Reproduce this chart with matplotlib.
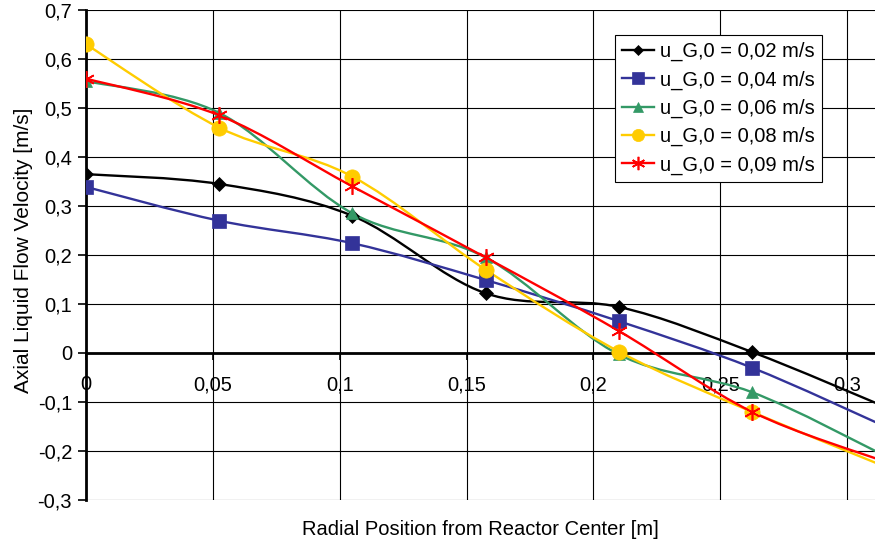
import numpy as np
import matplotlib.pyplot as plt
from matplotlib.path import Path
from matplotlib.patches import PathPatch
from matplotlib.lines import Line2D

plt.rcParams['font.family'] = ['Liberation Sans', 'DejaVu Sans']

# radial positions [m]
r = [0.0, 0.0525, 0.105, 0.1575, 0.21, 0.2625, 0.315]

# axial liquid velocity [m/s] for each superficial gas velocity
u_002 = [0.365, 0.345, 0.28, 0.122, 0.094, 0.002, -0.11]
u_004 = [0.339, 0.27, 0.224, 0.149, 0.065, -0.03, -0.15]
u_006 = [0.555, 0.49, 0.285, 0.195, -0.003, -0.08, -0.21]
u_008 = [0.63, 0.46, 0.36, 0.17, 0.003, -0.12, -0.232]
u_009 = [0.56, 0.485, 0.34, 0.195, 0.045, -0.12, -0.222]

labels = ["u_G,0 = 0,02 m/s", "u_G,0 = 0,04 m/s", "u_G,0 = 0,06 m/s",
          "u_G,0 = 0,08 m/s", "u_G,0 = 0,09 m/s"]
colors = ["black", "#333399", "#339966", "#FFCC00", "#FF0000"]
markers = ["D", "s", "^", "o", (6, 2, 0)]
msizes = [7, 10, 9, 11, 12]

FS = 14.5


def smooth_path(x, y):
    # Excel-like smoothed line: cubic bezier segments (catmull-rom control points)
    pts = np.column_stack([x, y])
    verts = [pts[0]]
    codes = [Path.MOVETO]
    n = len(pts)
    for i in range(n - 1):
        p0 = pts[i - 1] if i > 0 else pts[i]
        p1 = pts[i]
        p2 = pts[i + 1]
        p3 = pts[i + 2] if i + 2 < n else pts[i + 1]
        c1 = p1 + (p2 - p0) / 6.0
        c2 = p2 - (p3 - p1) / 6.0
        verts += [c1, c2, p2]
        codes += [Path.CURVE4] * 3
    return Path(verts, codes)


fig = plt.figure(figsize=(8.75, 5.44), dpi=100)
ax = fig.add_axes([0.0983, 0.0809, 0.9017, 0.9007])

series = [u_002, u_004, u_006, u_008, u_009]
handles = []
for ys, c, m, ms, lab in zip(series, colors, markers, msizes, labels):
    ax.add_patch(PathPatch(smooth_path(r, ys), facecolor="none",
                           edgecolor=c, lw=1.7, zorder=3))
    mew = 1.2 if m == (6, 2, 0) else 0.5
    ax.plot(r, ys, linestyle="none", marker=m, ms=ms, color=c,
            mec=c, mew=mew, zorder=4)
    handles.append(Line2D([], [], color=c, lw=1.7, marker=m,
                          ms=ms * 0.8, mew=mew, label=lab))

ax.set_xlim(0, 0.311)
ax.set_ylim(-0.3, 0.7)
ax.set_xticks(np.arange(0, 0.31, 0.05))
ax.set_yticks(np.arange(-0.3, 0.71, 0.1))
ax.set_xticklabels(["0", "0,05", "0,1", "0,15", "0,2", "0,25", "0,3"])
ax.set_yticklabels(["-0,3", "-0,2", "-0,1", "0", "0,1", "0,2", "0,3",
                    "0,4", "0,5", "0,6", "0,7"])

ax.grid(True, color="black", lw=0.8)
ax.set_axisbelow(True)
ax.spines["bottom"].set_position(("data", 0))
ax.spines["bottom"].set_linewidth(2)
ax.spines["left"].set_linewidth(2)
ax.spines["top"].set_visible(False)
ax.spines["right"].set_visible(False)

ax.tick_params(axis="x", direction="out", length=5, width=1.2, pad=11,
               labelsize=FS)
ax.tick_params(axis="y", direction="out", length=6, width=1.2, pad=4,
               labelsize=FS)

ax.set_xlabel("Radial Position from Reactor Center [m]", fontsize=FS)
ax.xaxis.set_label_coords(0.5, -0.04)
ax.set_ylabel("Axial Liquid Flow Velocity [m/s]", fontsize=15)
ax.yaxis.set_label_coords(-0.067, 0.51)

leg = ax.legend(handles=handles, loc="upper right",
                bbox_to_anchor=(0.933, 0.949), fontsize=FS, frameon=True,
                fancybox=False, edgecolor="black", framealpha=1,
                handlelength=1.6, handletextpad=0.3, labelspacing=0.45,
                borderpad=0.35, borderaxespad=0)
leg.get_frame().set_linewidth(0.8)

fig.savefig("out.png", dpi=100)
